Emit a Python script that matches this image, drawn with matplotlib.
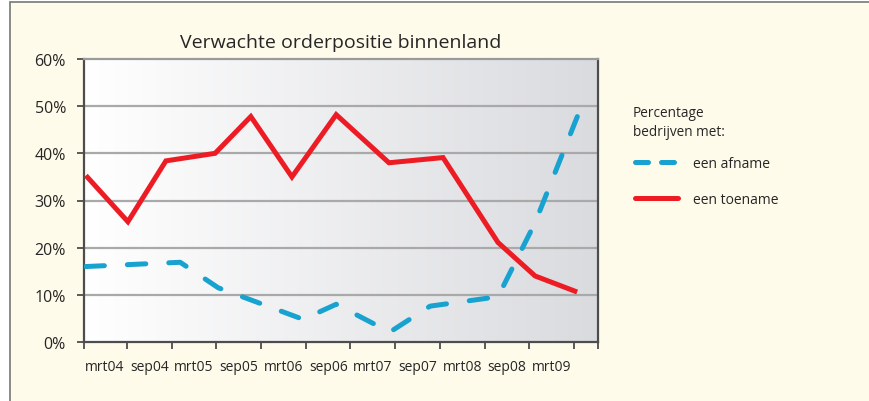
import numpy as np
import matplotlib
matplotlib.use("Agg")
import matplotlib.pyplot as plt
from matplotlib.colors import LinearSegmentedColormap
from matplotlib.lines import Line2D
from matplotlib.patches import Rectangle

# periods in half-years (tick 0 = boundary sep04/mrt05 style category axis)
labels = ['mrt04', 'sep04', 'mrt05', 'sep05', 'mrt06', 'sep06',
          'mrt07', 'sep07', 'mrt08', 'sep08', 'mrt09']

toename_x = [-0.92, 0.02, 0.87, 1.97, 2.77, 3.69, 4.68, 5.86, 7.07, 8.30, 9.13, 10.07]
toename = [35.3, 25.5, 38.4, 40.0, 47.8, 35.0, 48.2, 38.0, 39.1, 21.1, 14.0, 10.6]

afname_x = [-0.92, 1.19, 2.04, 3.94, 4.68, 5.88, 6.78, 8.30, 9.13, 10.10]
afname = [16.0, 16.9, 11.5, 4.8, 8.0, 2.1, 7.6, 9.6, 25.3, 48.4]

red = '#ed1c24'
blue = '#18a2d0'
cream = '#fffbea'
txt = '#262626'

plt.rcParams['font.family'] = ['Open Sans', 'DejaVu Sans']

fig = plt.figure(figsize=(8.7, 4.02), dpi=100)
fig.patch.set_facecolor('white')
fig.add_artist(Rectangle((10 / 870, -0.05), 1.0, 1.05 - 3 / 402,
                         transform=fig.transFigure, facecolor=cream,
                         edgecolor='#777777', linewidth=1.2, zorder=-5))

ax = fig.add_axes([84 / 870, 1 - 343 / 402, (598 - 84) / 870, (343 - 60) / 402])
ax.set_zorder(2)
xmin, xmax = -0.962, 10.537
ax.set_xlim(xmin, xmax)
ax.set_ylim(0, 60)

# background gradient of the plot area
grad = LinearSegmentedColormap.from_list('g', ['#ffffff', '#dadbdf'])
ax.imshow(np.linspace(0, 1, 256).reshape(1, -1), cmap=grad, aspect='auto',
          extent=[xmin, xmax, 0, 60], zorder=0)

for yv in [10, 20, 30, 40, 50]:
    ax.axhline(yv, color='#a9a9a9', linewidth=1.6, zorder=1)

ax.plot(afname_x, afname, color=blue, linewidth=3.6, linestyle=(0, (3.7, 4.6)),
        dash_capstyle='round', solid_joinstyle='round', zorder=3)
ax.plot(toename_x, toename, color=red, linewidth=3.6, solid_capstyle='butt',
        solid_joinstyle='miter', zorder=4)

for s in ['left', 'bottom', 'right']:
    ax.spines[s].set_color('#4d4d4d')
    ax.spines[s].set_linewidth(1.6)
ax.spines['top'].set_color('#9a9a9a')
ax.spines['top'].set_linewidth(1.6)

ax.set_yticks(range(0, 61, 10))
ax.set_yticklabels(['%d%%' % v for v in range(0, 61, 10)])
ax.tick_params(axis='y', length=5, width=1.3, color='#4d4d4d', pad=8,
               labelsize=11.5, labelcolor=txt)

ax.set_xticks([xmin] + list(range(0, 11)) + [xmax])
ax.set_xticklabels([])
ax.set_xticks(np.arange(len(labels)) - 0.5, minor=True)
ax.set_xticklabels(labels, minor=True)
ax.tick_params(axis='x', which='major', length=5, width=1.3, color='#4d4d4d')
ax.tick_params(axis='x', which='minor', length=0, pad=12, labelsize=10,
               labelcolor=txt)

ax.set_title('Verwachte orderpositie binnenland', fontsize=14, color=txt, pad=9)

# legend heading as plain text, entries as a legend below it
fig.text(633 / 870, 1 - 106 / 402, 'Percentage\nbedrijven met:', fontsize=9.8,
         color=txt, va='top', ha='left', linespacing=1.4)
handles = [Line2D([], [], color=blue, linewidth=3.6, linestyle=(0, (2.6, 2.6)),
                  dash_capstyle='round'),
           Line2D([], [], color=red, linewidth=3.6, solid_capstyle='round')]
leg = ax.legend(handles, ['een afname', 'een toename'], loc='upper left',
                bbox_to_anchor=(635 / 870, 1 - 157 / 402),
                bbox_transform=fig.transFigure, frameon=False, fontsize=10,
                handlelength=3.1, handletextpad=1.1,
                labelspacing=1.48, borderaxespad=0, borderpad=0)
for t in leg.get_texts():
    t.set_color(txt)

fig.savefig('out.png', dpi=100, facecolor=fig.get_facecolor())
